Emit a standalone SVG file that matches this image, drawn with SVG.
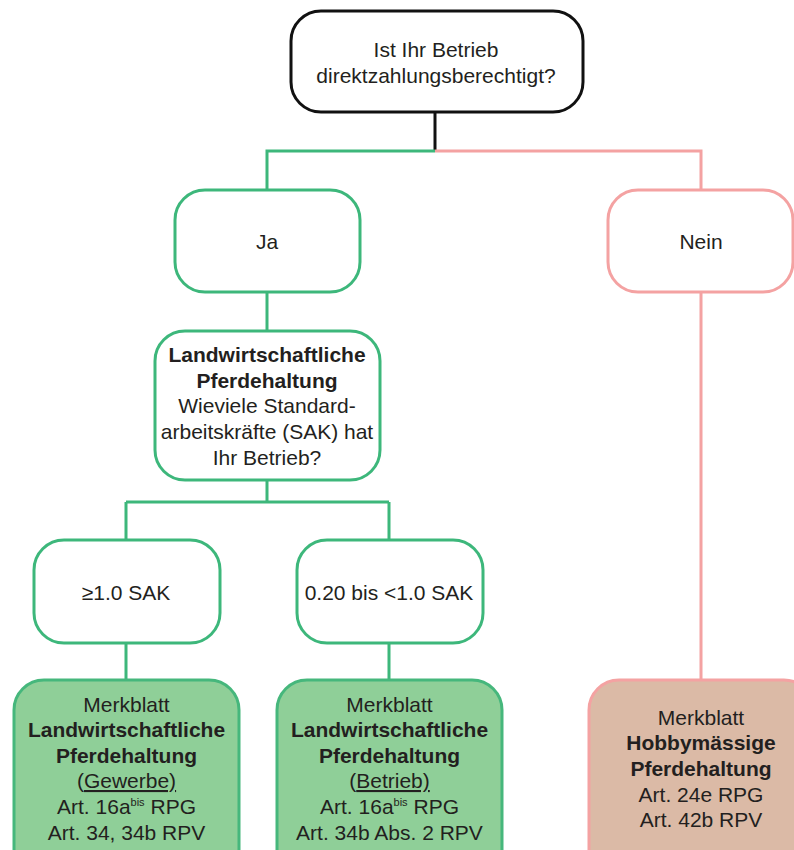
<svg xmlns="http://www.w3.org/2000/svg" width="794" height="850" viewBox="0 0 794 850">
<style>
text{font-family:"Liberation Sans",Arial,sans-serif;font-size:21px;fill:#231f20;text-anchor:middle}
.b{font-weight:bold}
.sup{font-size:11px}
.u{text-decoration:underline}
.g{fill:#fff;stroke:#3db77b;stroke-width:3}
.gf{fill:#8fcf98;stroke:#46b77c;stroke-width:3}
.p{fill:#fff;stroke:#f4a2a2;stroke-width:3}
.pf{fill:#dbbaa6;stroke:#f4a2a2;stroke-width:3}
.lg{fill:none;stroke:#3db77b;stroke-width:3}
.lp{fill:none;stroke:#f4a2a2;stroke-width:3}
.lk{fill:none;stroke:#111;stroke-width:3}
</style>
<g id="connectors">
<path class="lk" d="M435 112V151"/>
<path class="lg" d="M435 151H267V190"/>
<path class="lp" d="M435 151H701V190"/>
<path class="lg" d="M267 292V331"/>
<path class="lp" d="M701 292V680"/>
<path class="lg" d="M267 480V502M126 502H389M126 502V540M389 502V540"/>
<path class="lg" d="M126 643V680M389 643V680"/>
</g>
<g id="q1">
<rect x="291" y="11" width="292" height="101" rx="30" fill="#fff" stroke="#111" stroke-width="3"/>
<text x="436" y="57">Ist Ihr Betrieb</text>
<text x="436" y="83">direktzahlungsberechtigt?</text>
</g>
<g id="ja">
<rect class="g" x="175" y="190" width="185" height="102" rx="30"/>
<text x="267" y="249">Ja</text>
</g>
<g id="nein">
<rect class="p" x="608" y="190" width="185" height="102" rx="30"/>
<text x="701" y="249">Nein</text>
</g>
<g id="q2">
<rect class="g" x="155" y="331" width="225" height="149" rx="30"/>
<text x="267" y="362" class="b">Landwirtschaftliche</text>
<text x="267" y="388" class="b">Pferdehaltung</text>
<text x="267" y="413">Wieviele Standard-</text>
<text x="267" y="439">arbeitskräfte (SAK) hat</text>
<text x="267" y="465">Ihr Betrieb?</text>
</g>
<g id="sak1">
<rect class="g" x="34" y="540" width="186" height="103" rx="30"/>
<text x="126" y="600">≥1.0 SAK</text>
</g>
<g id="sak2">
<rect class="g" x="297" y="540" width="186" height="103" rx="30"/>
<text x="389" y="600">0.20 bis &lt;1.0 SAK</text>
</g>
<g id="mb1">
<rect class="gf" x="14" y="680" width="225" height="200" rx="30"/>
<text x="126.5" y="712">Merkblatt</text>
<text x="126.5" y="737" class="b">Landwirtschaftliche</text>
<text x="126.5" y="763" class="b">Pferdehaltung</text>
<text x="126.5" y="788">(<tspan class="u">Gewerbe)</tspan></text>
<text x="126.5" y="814">Art. 16a<tspan class="sup" dy="-8">bis</tspan><tspan dy="8"> RPG</tspan></text>
<text x="126.5" y="840">Art. 34, 34b RPV</text>
</g>
<g id="mb2">
<rect class="gf" x="277" y="680" width="225" height="200" rx="30"/>
<text x="389.5" y="712">Merkblatt</text>
<text x="389.5" y="737" class="b">Landwirtschaftliche</text>
<text x="389.5" y="763" class="b">Pferdehaltung</text>
<text x="389.5" y="788">(<tspan class="u">Betrieb)</tspan></text>
<text x="389.5" y="814">Art. 16a<tspan class="sup" dy="-8">bis</tspan><tspan dy="8"> RPG</tspan></text>
<text x="389.5" y="840">Art. 34b Abs. 2 RPV</text>
</g>
<g id="mb3">
<rect class="pf" x="589" y="680" width="225" height="200" rx="30"/>
<text x="701" y="725">Merkblatt</text>
<text x="701" y="750" class="b">Hobbymässige</text>
<text x="701" y="776" class="b">Pferdehaltung</text>
<text x="701" y="802">Art. 24e RPG</text>
<text x="701" y="827">Art. 42b RPV</text>
</g>
</svg>
